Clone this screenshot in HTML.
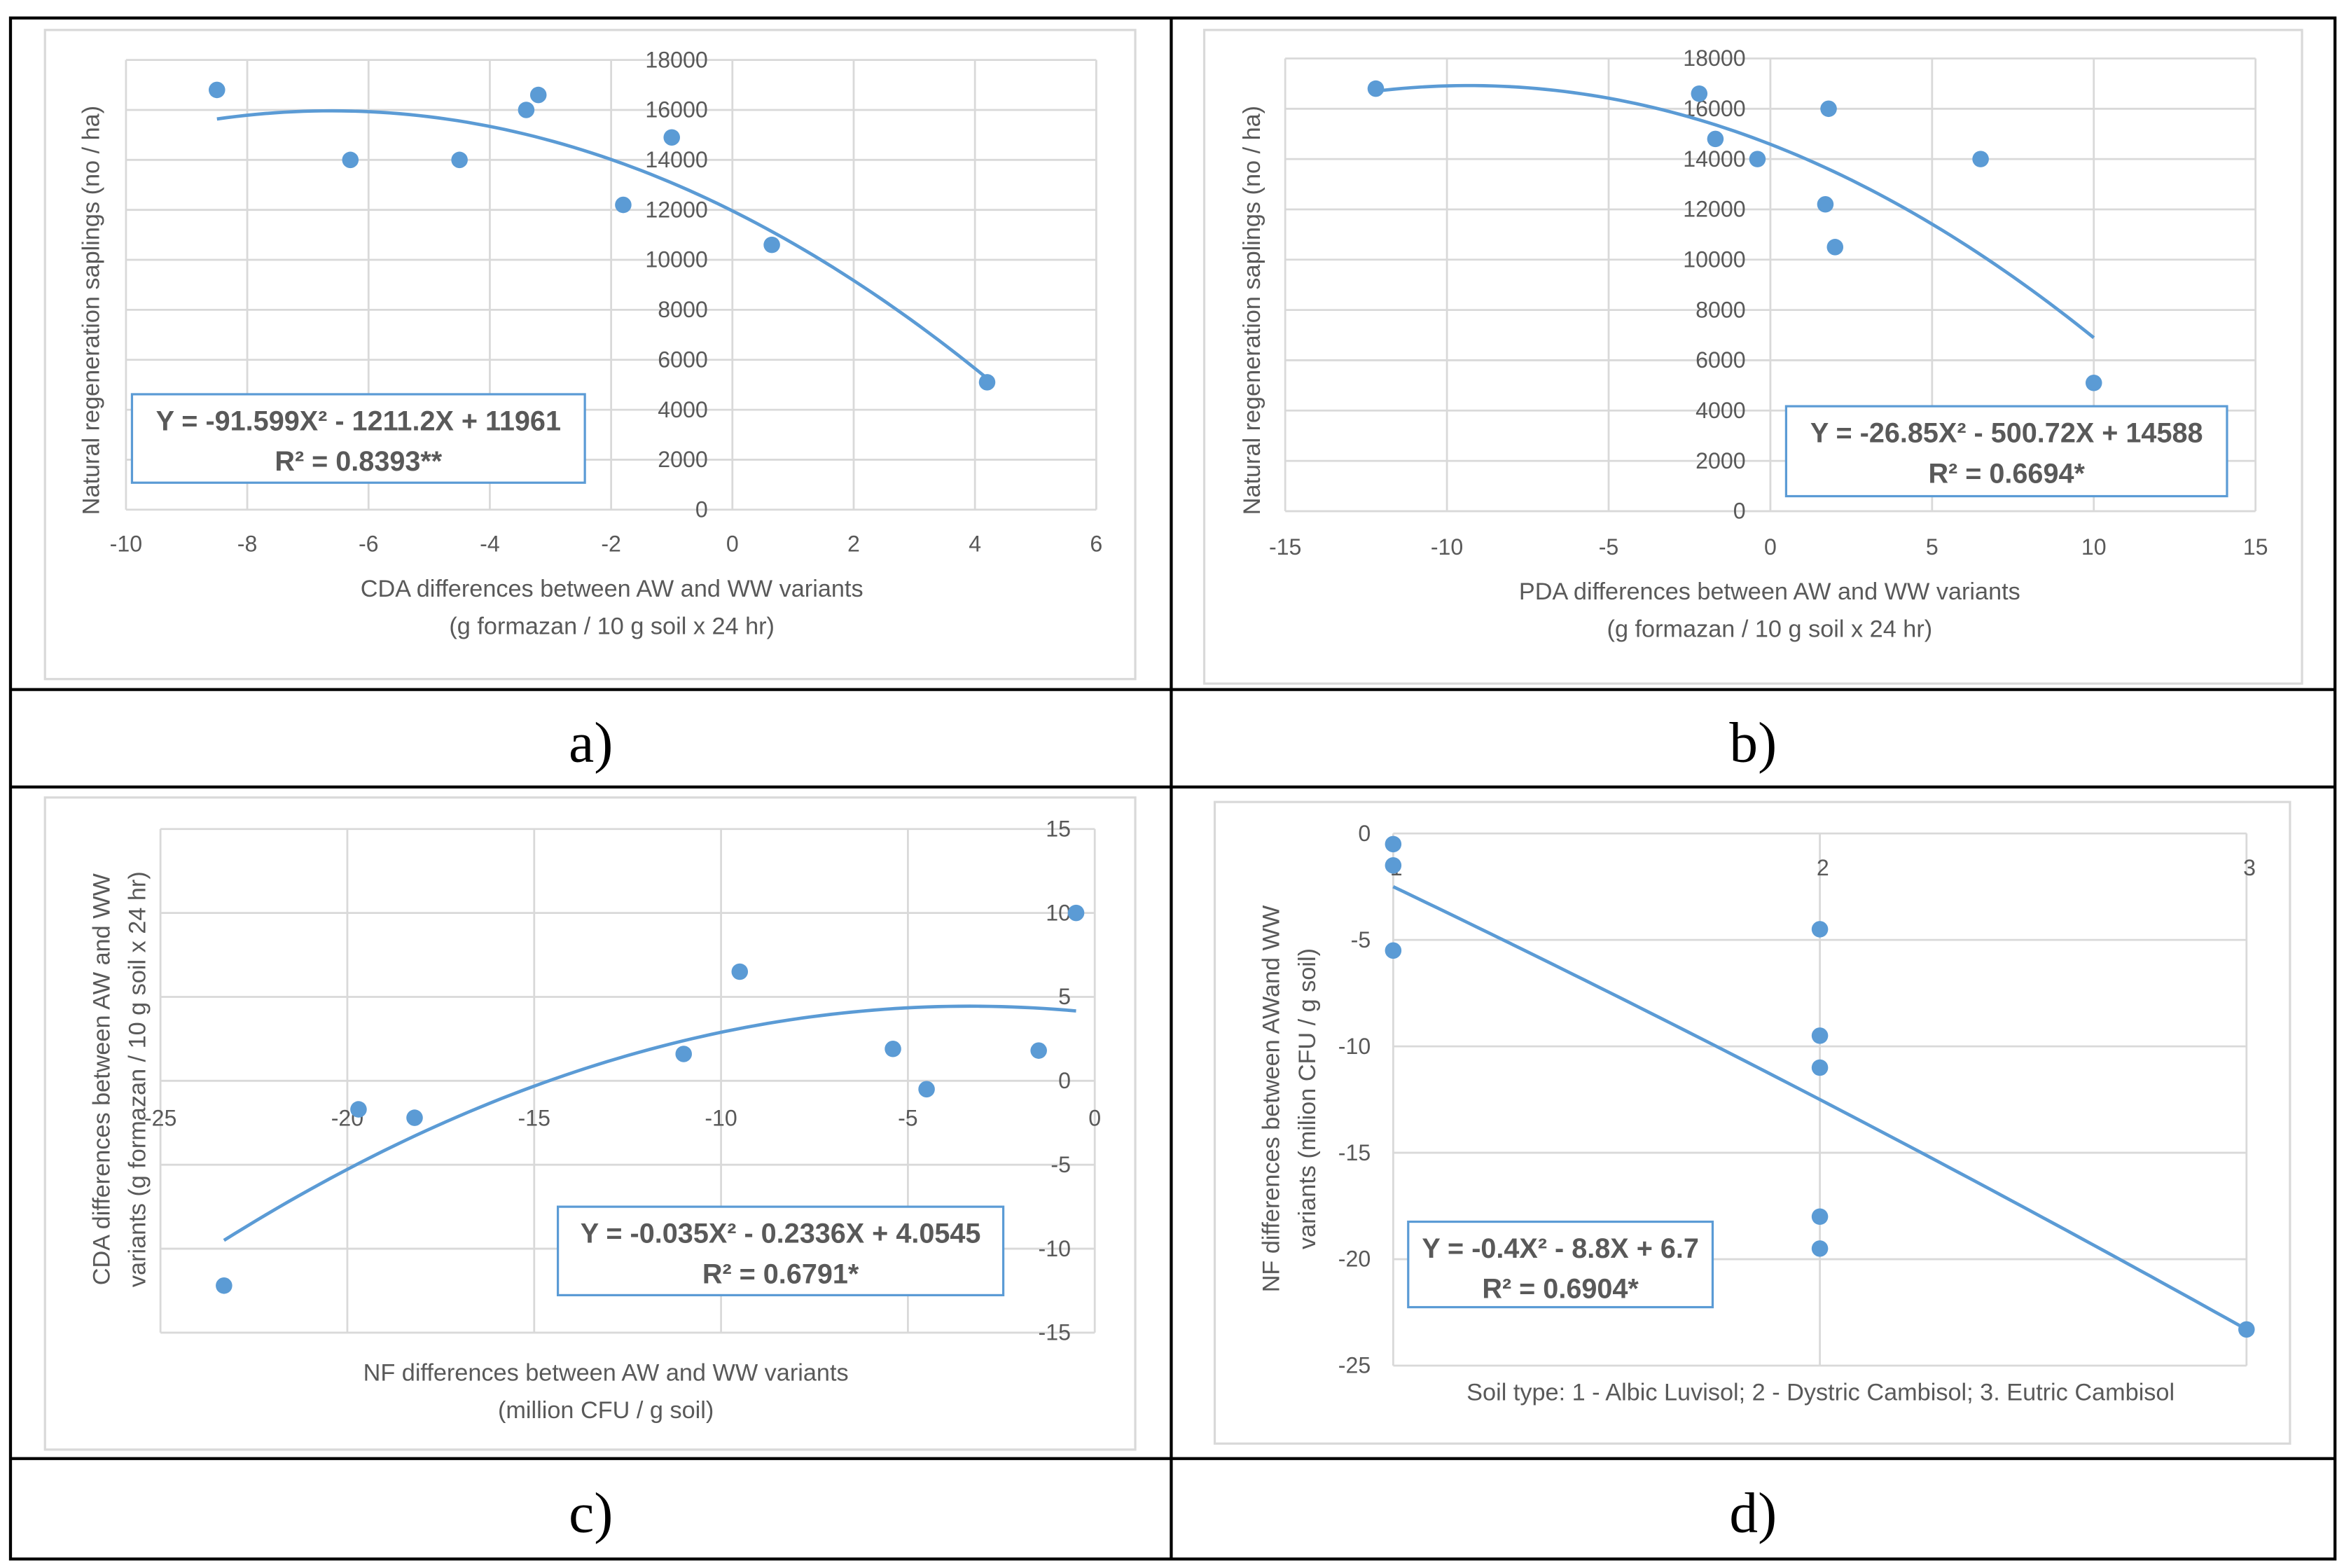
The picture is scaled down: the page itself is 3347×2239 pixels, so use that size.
<!DOCTYPE html>
<html><head><meta charset="utf-8">
<style>
html,body{margin:0;padding:0;background:#fff;}
svg{display:block;}
</style></head>
<body>
<svg id="fig" width="3347" height="2239" viewBox="0 0 1563 1046" preserveAspectRatio="none" xmlns="http://www.w3.org/2000/svg" style="font-family:'Liberation Sans',sans-serif">
<rect x="0" y="0" width="1563" height="1046" fill="#fff"/>
<g stroke="#000" stroke-width="2" fill="none">
<rect x="7" y="12" width="1550" height="1028"/>
<line x1="7" y1="460" x2="1557" y2="460"/>
<line x1="7" y1="525" x2="1557" y2="525"/>
<line x1="7" y1="973" x2="1557" y2="973"/>
<line x1="781" y1="12" x2="781" y2="1040"/>
</g>
<g font-size="38" text-anchor="middle" fill="#000" style="font-family:'Liberation Serif',serif">
<text x="394" y="508" style="font-family:'Liberation Serif',serif">a)</text>
<text x="1169" y="508" style="font-family:'Liberation Serif',serif">b)</text>
<text x="394" y="1022" style="font-family:'Liberation Serif',serif">c)</text>
<text x="1169" y="1022" style="font-family:'Liberation Serif',serif">d)</text>
</g>
<g id="charts"></g>
</svg>
<script>
// Panel a data
const aX = [-8.5, -6.3, -4.5, -3.4, -3.2, -1.0, -1.8, 0.65, 4.2];
const aY = [16800, 14000, 14000, 16000, 16600, 14900, 12200, 10600, 5100];
const aCoef = [-91.599, -1211.2, 11961];
const aXTicks = [-10, -8, -6, -4, -2, 0, 2, 4, 6];
const aYTicks = [0, 2000, 4000, 6000, 8000, 10000, 12000, 14000, 16000, 18000];
// Panel b data
const bX = [-12.2, -2.2, -1.7, -0.4, 1.8, 1.7, 2.0, 6.5, 10];
const bY = [16800, 16600, 14800, 14000, 16000, 12200, 10500, 14000, 5100];
const bCoef = [-26.85, -500.72, 14588];
const bXTicks = [-15, -10, -5, 0, 5, 10, 15];
const bYTicks = [0, 2000, 4000, 6000, 8000, 10000, 12000, 14000, 16000, 18000];
// Panel c data
const cX = [-23.3, -19.7, -18.2, -11, -9.5, -5.4, -4.5, -1.5, -0.5];
const cY = [-12.2, -1.7, -2.2, 1.6, 6.5, 1.9, -0.5, 1.8, 10];
const cCoef = [-0.035, -0.2336, 4.0545];
const cXTicks = [-25, -20, -15, -10, -5, 0];
const cYTicks = [-15, -10, -5, 0, 5, 10, 15];
// Panel d data
const dX = [1, 1, 1, 2, 2, 2, 2, 2, 3];
const dY = [-0.5, -1.5, -5.5, -4.5, -9.5, -11, -18, -19.5, -23.3];
const dCoef = [-0.4, -8.8, 6.7];
const dXTicks = [1, 2, 3];
const dYTicks = [-25, -20, -15, -10, -5, 0];

const NS = "http://www.w3.org/2000/svg";
const root = document.getElementById('charts');
function mk(tag, attrs, parent, txt) {
  const e = document.createElementNS(NS, tag);
  for (const k in attrs) e.setAttribute(k, attrs[k]);
  if (txt !== undefined) e.textContent = txt;
  parent.appendChild(e);
  return e;
}
const BLUE = "#5b9bd5", GRID = "#d9d9d9", TXT = "#595959";

function panel(id, cfg) {
  const g = mk('g', {}, root);
  
  
  const fr = mk('rect', {x: cfg.frame[0], y: cfg.frame[1], width: cfg.frame[2], height: cfg.frame[3], fill: '#fff', stroke: '#d9d9d9', 'stroke-width': 1.5}, g);
  
  
  const sx = v => cfg.px0 + (v - cfg.xmin) / (cfg.xmax - cfg.xmin) * (cfg.px1 - cfg.px0);
  const sy = v => cfg.py0 + (v - cfg.ymin) / (cfg.ymax - cfg.ymin) * (cfg.py1 - cfg.py0);
  cfg.xt.forEach(t => {
    const l = mk('line', {x1: sx(t), x2: sx(t), y1: sy(cfg.ymin), y2: sy(cfg.ymax), stroke: GRID, 'stroke-width': 1.3}, g);
    
    
  });
  cfg.yt.forEach(t => {
    const l = mk('line', {x1: sx(cfg.xmin), x2: sx(cfg.xmax), y1: sy(t), y2: sy(t), stroke: GRID, 'stroke-width': 1.3}, g);
    
    
  });
  cfg.xt.forEach(t => {
    const tx = mk('text', {x: sx(t) + (cfg.xlDx || 0), y: cfg.xlY, 'font-size': 15, fill: TXT, 'text-anchor': cfg.xlAnchor || 'middle'}, g, String(t));
    
    
  });
  cfg.yt.forEach(t => {
    const tx = mk('text', {x: cfg.ylX, y: sy(t) + 5, 'font-size': 15, fill: TXT, 'text-anchor': 'end'}, g, String(t));
    
    
  });
  const [A, B, C] = cfg.coef;
  const x0 = Math.min(...cfg.xs), x1 = Math.max(...cfg.xs);
  let d = '';
  for (let i = 0; i <= 80; i++) {
    const x = x0 + (x1 - x0) * i / 80;
    const y = A * x * x + B * x + C;
    d += (i ? 'L' : 'M') + sx(x).toFixed(2) + ' ' + sy(y).toFixed(2);
  }
  const p = mk('path', {d: d, fill: 'none', stroke: BLUE, 'stroke-width': 2.2}, g);
  
  
  cfg.xs.forEach((x, i) => {
    const c = mk('circle', {cx: sx(x), cy: sy(cfg.ys[i]), r: 5.5, fill: BLUE}, g);
    
    
  });
  const b = cfg.box;
  const br = mk('rect', {x: b[0], y: b[1], width: b[2], height: b[3], fill: '#fff', stroke: BLUE, 'stroke-width': 1.5}, g);
  
  
  const e1 = mk('text', {x: b[0] + b[2] / 2, y: b[1] + 24, 'font-size': 18.5, 'font-weight': 'bold', fill: TXT, 'text-anchor': 'middle'}, g, cfg.eq[0]);
  
  
  const e2 = mk('text', {x: b[0] + b[2] / 2, y: b[1] + 51, 'font-size': 18.5, 'font-weight': 'bold', fill: TXT, 'text-anchor': 'middle'}, g, cfg.eq[1]);
  
  
  cfg.xtitle.forEach((s, i) => {
    const t = mk('text', {x: cfg.xtX, y: cfg.xtY + i * 25, 'font-size': 16, fill: TXT, 'text-anchor': 'middle'}, g, s);
    
    
  });
  cfg.ytitle.forEach((s, i) => {
    const xx = cfg.ytX + i * 24;
    const t = mk('text', {x: xx, y: cfg.ytY, 'font-size': 16, fill: TXT, 'text-anchor': 'middle', transform: 'rotate(-90 ' + xx + ' ' + cfg.ytY + ')'}, g, s);
    
    
  });
}

panel('chart-a', {frame: [30, 20, 727, 433], xmin: -10, xmax: 6, px0: 84, px1: 731, ymin: 0, ymax: 18000, py0: 340, py1: 40,
  xt: aXTicks, yt: aYTicks, xs: aX, ys: aY, coef: aCoef, xlY: 368, ylX: 472,
  box: [88, 263, 302, 59], eq: ['Y = -91.599X² - 1211.2X + 11961', 'R² = 0.8393**'],
  xtitle: ['CDA differences between AW and WW variants', '(g formazan / 10 g soil x 24 hr)'], xtX: 408, xtY: 398,
  ytitle: ['Natural regeneration saplings (no / ha)'], ytX: 66, ytY: 207});
panel('chart-b', {frame: [803, 20, 732, 436], xmin: -15, xmax: 15, px0: 857, px1: 1504, ymin: 0, ymax: 18000, py0: 341, py1: 39,
  xt: bXTicks, yt: bYTicks, xs: bX, ys: bY, coef: bCoef, xlY: 370, ylX: 1164,
  box: [1191, 271, 294, 60], eq: ['Y = -26.85X² - 500.72X + 14588', 'R² = 0.6694*'],
  xtitle: ['PDA differences between AW and WW variants', '(g formazan / 10 g soil x 24 hr)'], xtX: 1180, xtY: 400,
  ytitle: ['Natural regeneration saplings (no / ha)'], ytX: 840, ytY: 207});
panel('chart-c', {frame: [30, 532, 727, 435], xmin: -25, xmax: 0, px0: 107, px1: 730, ymin: -15, ymax: 15, py0: 889, py1: 553,
  xt: cXTicks, yt: cYTicks, xs: cX, ys: cY, coef: cCoef, xlY: 751, ylX: 714,
  box: [372, 805, 297, 59], eq: ['Y = -0.035X² - 0.2336X + 4.0545', 'R² = 0.6791*'],
  xtitle: ['NF differences between AW and WW variants', '(million CFU / g soil)'], xtX: 404, xtY: 921,
  ytitle: ['CDA differences between AW and WW', 'variants (g formazan / 10 g soil x 24 hr)'], ytX: 73, ytY: 720});
panel('chart-d', {frame: [810, 535, 717, 428], xmin: 1, xmax: 3, px0: 929, px1: 1498, ymin: -25, ymax: 0, py0: 911, py1: 556,
  xt: dXTicks, yt: dYTicks, xs: dX, ys: dY, coef: dCoef, xlY: 584, ylX: 914, xlDx: 2,
  box: [939, 815, 203, 57], eq: ['Y = -0.4X² - 8.8X + 6.7', 'R² = 0.6904*'],
  xtitle: ['Soil type: 1 - Albic Luvisol; 2 - Dystric Cambisol; 3. Eutric Cambisol'], xtX: 1214, xtY: 934,
  ytitle: ['NF differences between AWand WW', 'variants (milion CFU / g soil)'], ytX: 853, ytY: 733});
</script>
</body></html>
